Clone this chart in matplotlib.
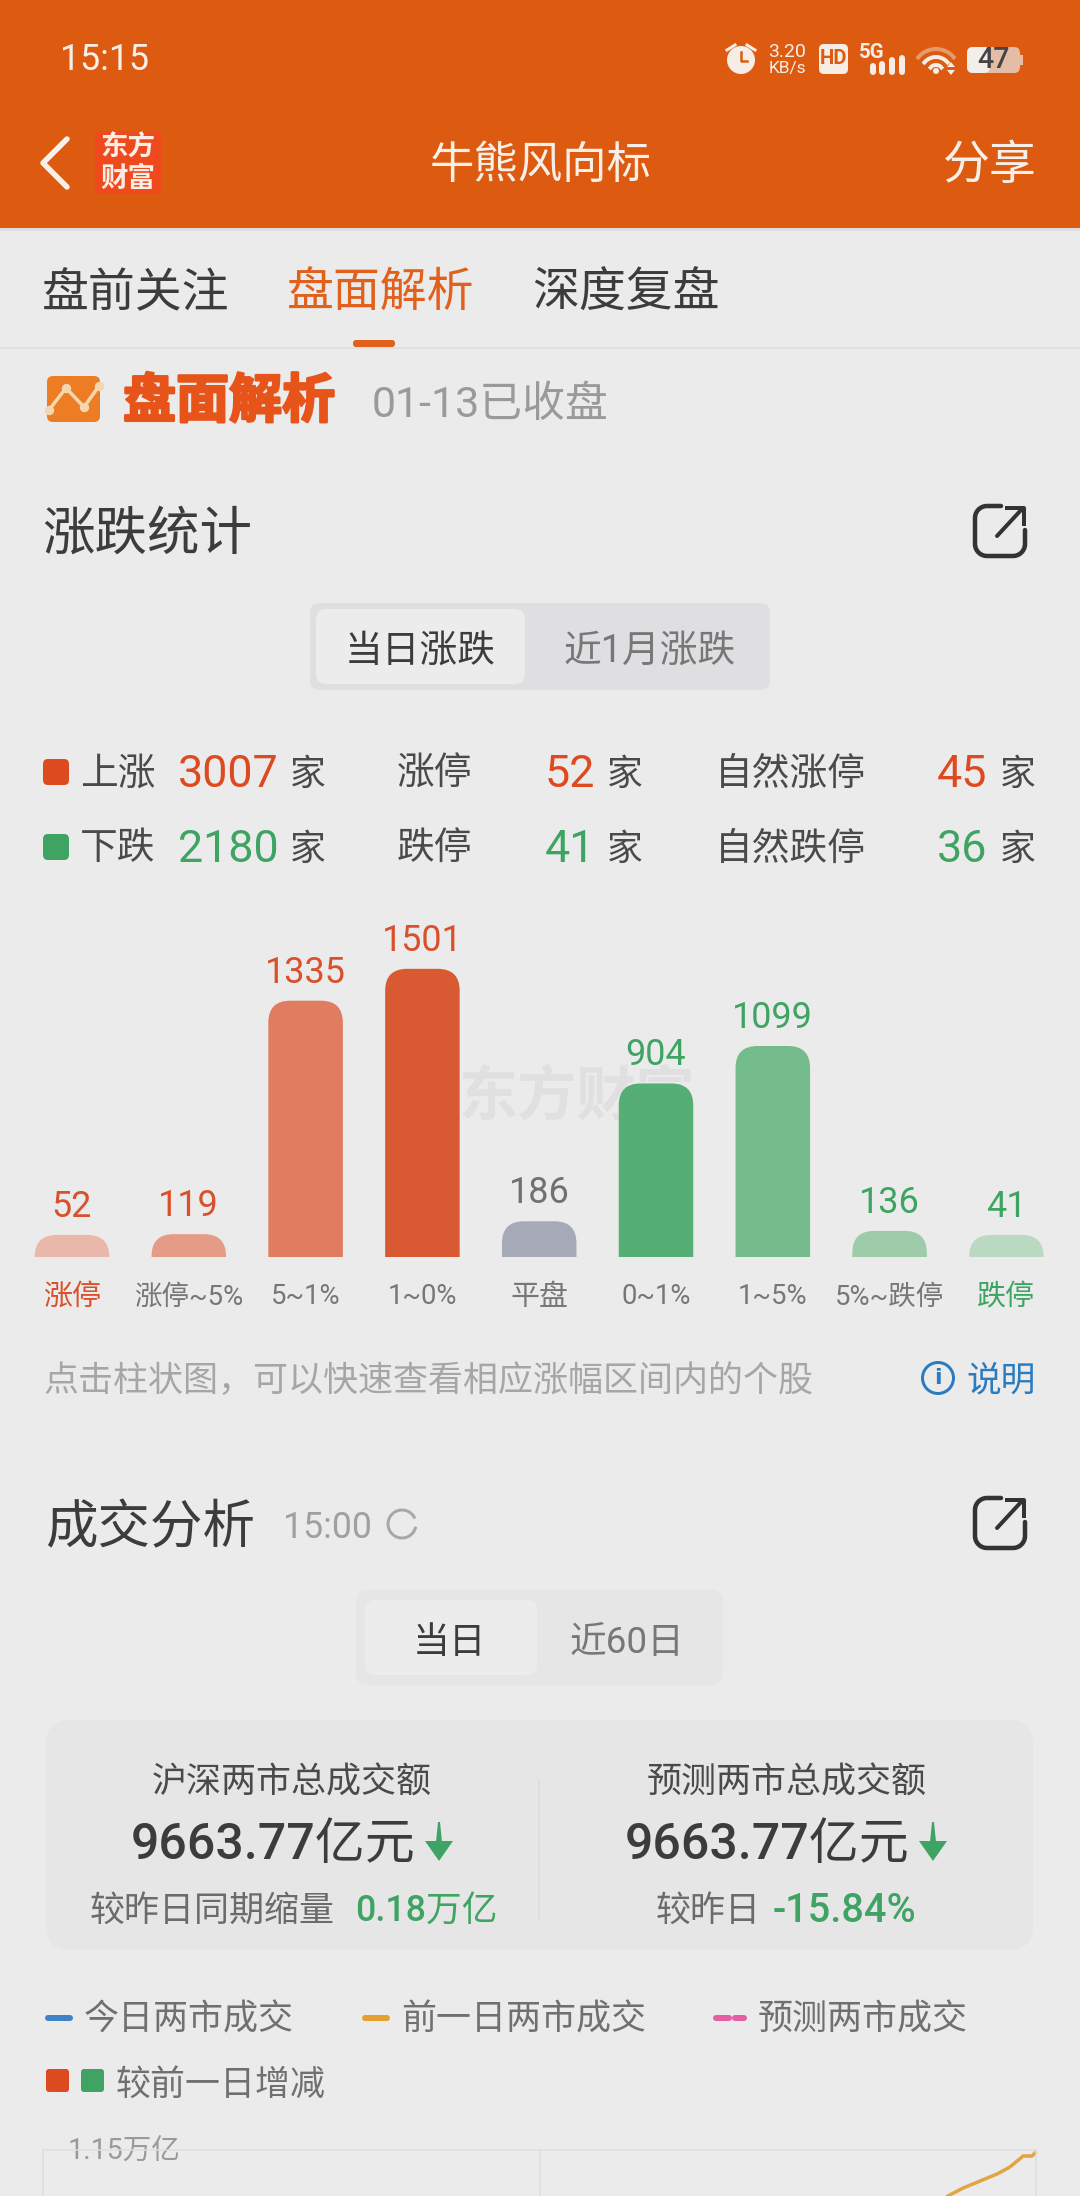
import numpy as np
import matplotlib
matplotlib.use("Agg")
import matplotlib.pyplot as plt
from matplotlib.patches import FancyBboxPatch, PathPatch, Circle, Polygon, Rectangle
from matplotlib.path import Path
import matplotlib.patheffects as pe

plt.rcParams['font.family'] = ['Roboto', 'Noto Sans CJK SC', 'DejaVu Sans']

# bar chart values
categories = ['涨停', '涨停~5%', '5~1%', '1~0%', '平盘', '0~1%', '1~5%', '5%~跌停', '跌停']
counts = [52, 119, 1335, 1501, 186, 904, 1099, 136, 41]
bar_colors = ['#e9b8aa', '#e49c87', '#e07c5f', '#d95a32', '#a6a9b8', '#55ae73', '#75bc8c', '#9ecba9', '#b9d9c2']
label_colors = ['#d9512c', '#d9512c', '#d9512c', '#d9512c', '#707070', '#3fa463', '#3fa463', '#3fa463', '#3fa463']
cat_colors = ['#d9512c', '#777777', '#777777', '#777777', '#777777', '#777777', '#777777', '#777777', '#3fa463']
min_bar_value = 115  # short bars keep a minimum height in the app

# summary rows
up_stats = ['3007', '52', '45']
down_stats = ['2180', '41', '36']

# previous day line, only the end of it is on screen
prev_minutes = [218.7, 222.4, 226.5, 230.6, 233.7, 236.9, 239.0, 239.8]
prev_volume = [1.104, 1.112, 1.119, 1.126, 1.133, 1.144, 1.144, 1.147]

BG = '#ebebeb'
ORANGE = '#dc5b10'
RED = '#d9512c'
GREEN = '#3fa463'
DARK = '#3c3c3c'
MID = '#707070'
GREY = '#a0a0a0'
BLUE = '#2a7bbf'

fig = plt.figure(figsize=(10.8, 21.96), dpi=100, facecolor=BG)
ax = fig.add_axes([0, 0, 1, 1])
ax.set_xlim(0, 1080)
ax.set_ylim(2196, 0)
ax.axis('off')


def px(n):
    return n * 72 / 100


def txt(x, y, s, size, color=DARK, ha='center', weight='normal', **kw):
    # text sits a little high in this font, hence the +3
    return ax.text(x, y + 3, s, fontsize=px(size * 1.02), color=color, ha=ha, va='center', weight=weight, **kw)


def box(x0, y0, x1, y1, r, color, z=1):
    p = FancyBboxPatch((x0 + r, y0 + r), x1 - x0 - 2 * r, y1 - y0 - 2 * r,
                       boxstyle='round,pad=%f,rounding_size=%f' % (r, r),
                       fc=color, ec='none', zorder=z)
    ax.add_patch(p)
    return p


def share_icon(x0, y0):
    c = '#333333'
    t = np.linspace(0, np.pi / 2, 12)
    r = 12
    w = 50
    h = 50
    xs = [x0 + 26, x0 + r]
    ys = [y0, y0]
    xs += list(x0 + r - r * np.sin(t))
    ys += list(y0 + r - r * np.cos(t))
    xs += list(x0 + r - r * np.cos(t))
    ys += list(y0 + h - r + r * np.sin(t))
    xs += list(x0 + w - r + r * np.sin(t))
    ys += list(y0 + h - r + r * np.cos(t))
    xs += [x0 + w]
    ys += [y0 + 24]
    ax.plot(xs, ys, color=c, lw=px(4.5), solid_capstyle='round', zorder=3)
    ax.plot([x0 + 22, x0 + 47], [y0 + 30, y0 + 3], color=c, lw=px(4), solid_capstyle='round', zorder=3)
    ax.plot([x0 + 32, x0 + 49, x0 + 49], [y0 + 2, y0 + 2, y0 + 18], color=c, lw=px(4), zorder=3)


# orange header
ax.add_patch(Rectangle((0, 0), 1080, 228, fc=ORANGE, ec='none', zorder=1))
ax.add_patch(Rectangle((0, 228), 1080, 3, fc='#dedede', ec='none', zorder=1))
txt(60, 57, '15:15', 35, '#f7efe8', ha='left')

# status bar icons
W = '#f5ede6'
ax.add_patch(Circle((741, 60), 14, fc=W, ec='none', zorder=3))
ax.plot([741, 741, 747], [52, 61, 61], color=ORANGE, lw=px(2.5), zorder=4)
ax.plot([727, 735], [50, 45], color=W, lw=px(3), zorder=3)
ax.plot([747, 755], [45, 50], color=W, lw=px(3), zorder=3)
txt(787, 49, '3.20', 19, W)
txt(787, 66, 'KB/s', 17, W)
box(819, 44, 848, 74, 5, W, 3)
txt(833.5, 56, 'HD', 20, ORANGE, weight='bold', zorder=4)
txt(872, 49, '5G', 20, W, weight='bold')
for bx, bt in zip([873, 882, 892, 902], [66, 64, 60, 58]):
    ax.plot([bx, bx], [bt, 72], color=W, lw=px(6), solid_capstyle='round', zorder=3)
ang = np.linspace(np.pi * 0.22, np.pi * 0.78, 20)
for rad, col in zip([7, 15, 23], [W, W, '#e79a6c']):
    ax.plot(936 + rad * np.cos(ang), 72 - rad * np.sin(ang), color=col, lw=px(4), zorder=3)
ax.add_patch(Circle((936, 71), 3, fc=W, ec='none', zorder=3))
ax.add_patch(Polygon([[951, 62], [955, 67], [947, 67]], fc=W, ec='none', zorder=3))
ax.add_patch(Polygon([[947, 70], [955, 70], [951, 75]], fc=W, ec='none', zorder=3))
box(967, 47, 1020, 73, 6, '#e5bca5', 3)
box(967, 47, 990, 73, 6, '#f2eeea', 3)
ax.add_patch(Rectangle((1020, 55), 3, 10, fc='#e5bca5', ec='none', zorder=3))
txt(993, 57, '47', 28, '#444444', zorder=4, weight='medium')

# nav bar
ax.plot([67, 43, 67], [139, 163, 187], color='#f7efe8', lw=px(5.5), solid_capstyle='round', zorder=3)
box(95, 131, 161, 194, 6, '#ee4a1d', 2)
txt(128, 145, '东方', 27, '#fbeee6', weight='bold', zorder=3)
txt(128, 176, '财富', 27, '#fbeee6', weight='bold', zorder=3)
txt(541, 163, '牛熊风向标', 43.5, '#f7efe8', weight='medium')
txt(990, 163, '分享', 46, '#f7efe8', weight='medium')

# tabs
txt(136, 291, '盘前关注', 46, DARK)
txt(381, 291, '盘面解析', 46, '#e0601c')
txt(626, 291, '深度复盘', 46, DARK)
ax.plot([0, 1080], [348, 348], color='#dcdcdc', lw=px(1.5), zorder=1)
box(353, 340, 395, 347, 3, '#e0601c', 3)

# section banner
box(47, 376, 100, 422, 6, '#ec7d24', 2)
ax.plot([49, 66, 84, 99], [410, 388, 407, 386], color='#f6d6ae', lw=px(3.5), marker='o', ms=px(8), zorder=3)
txt(229, 400, '盘面解析', 52, '#e6541a', weight='bold',
    path_effects=[pe.withStroke(linewidth=px(2.5), foreground='#e6541a')])
txt(372, 402, '01-13已收盘', 42, '#9a9a9a', ha='left')

# 涨跌统计 block
txt(42, 532, '涨跌统计', 51.5, DARK, ha='left', weight='medium')
share_icon(975, 506)
box(310, 603, 770, 690, 10, '#dfdfe1', 1)
box(316, 609, 525, 684, 10, '#ececec', 2)
txt(420, 648, '当日涨跌', 37, DARK, zorder=3)
txt(650, 648, '近1月涨跌', 37, '#777777', zorder=3)

row_y = [772, 847]
row_names = [['上涨', '涨停', '自然涨停'], ['下跌', '跌停', '自然跌停']]
row_vals = [up_stats, down_stats]
for i, y in enumerate(row_y):
    c = '#dd4a20' if i == 0 else GREEN
    box(43, y - 13, 69, y + 13, 5, c, 2)
    txt(80, y - 1, row_names[i][0], 37, '#4a4a4a', ha='left')
    txt(397, y - 1, row_names[i][1], 37, '#4a4a4a', ha='left')
    txt(715, y - 1, row_names[i][2], 37, '#4a4a4a', ha='left')
    txt(279, y, row_vals[i][0], 44, c, ha='right')
    txt(595, y, row_vals[i][1], 44, c, ha='right')
    txt(987, y, row_vals[i][2], 44, c, ha='right')
    for xk in [308, 625, 1018]:
        txt(xk, y, '家', 35, '#4a4a4a')

# watermark behind the bars
txt(577, 1095, '东方财富', 58, '#e0e0e2', weight='bold', zorder=0.5)

# bars, on their own axes: baseline at y=1257, 0.192 px per stock
ax_bar = fig.add_axes([0, 1 - 1257 / 2196, 1, (1257 - 900) / 2196])
ax_bar.patch.set_alpha(0)
ax_bar.set_xlim(-72 / 116.8, (1080 - 72) / 116.8)
ax_bar.set_ylim(0, (1257 - 900) / 0.192)
ax_bar.axis('off')
bar_w = 0.638
rx = 22 / 116.8
ry = 22 / 0.192
heights = np.maximum(counts, min_bar_value)
for i, h in enumerate(heights):
    l = i - bar_w / 2
    r = i + bar_w / 2
    verts = [(l, 0), (l, h - ry), (l, h), (l + rx, h), (r - rx, h), (r, h), (r, h - ry), (r, 0), (l, 0)]
    codes = [Path.MOVETO, Path.LINETO, Path.CURVE3, Path.CURVE3, Path.LINETO,
             Path.CURVE3, Path.CURVE3, Path.LINETO, Path.CLOSEPOLY]
    ax_bar.add_patch(PathPatch(Path(verts, codes), fc=bar_colors[i], ec='none'))
    ax_bar.annotate(str(counts[i]), (i, h), xytext=(0, px(28)), textcoords='offset points',
                    ha='center', va='center', fontsize=px(36), color=label_colors[i])
    ax_bar.annotate(categories[i], (i, 0), xytext=(0, -px(40)), textcoords='offset points',
                    ha='center', va='center', annotation_clip=False,
                    fontsize=px(29 if i in (0, 4, 8) else 27.5), color=cat_colors[i])

txt(44, 1378, '点击柱状图\uff0c可以快速查看相应涨幅区间内的个股', 34.3, '#a6a6a6', ha='left')
ax.add_patch(Circle((938, 1378), 15.5, fc='none', ec=BLUE, lw=px(3), zorder=3))
txt(938, 1375, 'i', 22, BLUE, weight='bold', family='DejaVu Sans', zorder=3)
txt(1001, 1378, '说明', 34, BLUE)

# 成交分析 block
txt(45, 1526, '成交分析', 51.5, DARK, ha='left', weight='medium')
txt(283, 1525, '15:00', 35, '#a0a0a0', ha='left')
ang2 = np.linspace(0.3, 2 * np.pi - 0.5, 40)
ax.plot(402 + 14 * np.cos(ang2), 1524 + 14 * np.sin(ang2), color='#a8a8a8', lw=px(3), zorder=3)
share_icon(975, 1498)
box(356, 1590, 723, 1685, 12, '#e6e6e6', 1)
box(365, 1600, 537, 1675, 10, '#ececec', 2)
txt(449, 1640, '当日', 36, DARK, zorder=3)
txt(627, 1640, '近60日', 36, '#777777', zorder=3)

box(46, 1720, 1033, 1950, 24, '#e6e6e7', 1)
ax.plot([539, 539], [1780, 1920], color='#dcdcdc', lw=px(1.5), zorder=2)
txt(292, 1780, '沪深两市总成交额', 34.3, '#4a4a4a', zorder=3)
txt(787, 1780, '预测两市总成交额', 34.3, '#4a4a4a', zorder=3)
txt(273, 1842, '9663.77亿元', 49, DARK, weight='medium', zorder=3)
txt(767, 1842, '9663.77亿元', 49, DARK, weight='medium', zorder=3)
for ax0 in [439, 933]:
    ax.add_patch(Polygon([[ax0 - 14, 1841], [ax0 + 14, 1841], [ax0, 1861]], fc=GREEN, ec='none', zorder=3))
    ax.add_patch(Polygon([[ax0 - 3, 1842], [ax0 + 3, 1842], [ax0 + 1, 1822], [ax0 - 1, 1822]], fc=GREEN, ec='none', zorder=3))
txt(90, 1908, '较昨日同期缩量', 34.3, '#6b6b6b', ha='left', zorder=3)
txt(355, 1908, '0.18万亿', 35, GREEN, ha='left', weight='medium', zorder=3)
txt(656, 1908, '较昨日', 34.3, '#6b6b6b', ha='left', zorder=3)
txt(773, 1908, '-15.84%', 39, GREEN, ha='left', weight='medium', zorder=3)

# legend
ax.plot([48, 70], [2018, 2018], color='#3f82c8', lw=px(6), solid_capstyle='round', zorder=3)
txt(84, 2017, '今日两市成交', 34.3, MID, ha='left')
ax.plot([365, 387], [2018, 2018], color='#e5a032', lw=px(6), solid_capstyle='round', zorder=3)
txt(401, 2017, '前一日两市成交', 34.3, MID, ha='left')
ax.plot([716, 729], [2018, 2018], color='#e45fa5', lw=px(6), solid_capstyle='round', zorder=3)
ax.plot([735, 744], [2018, 2018], color='#e45fa5', lw=px(6), solid_capstyle='round', zorder=3)
txt(758, 2017, '预测两市成交', 34.3, MID, ha='left')
box(46, 2069, 69, 2092, 3, '#dd4a20', 3)
box(81, 2069, 104, 2092, 3, GREEN, 3)
txt(116, 2082, '较前一日增减', 34.3, MID, ha='left')

# line chart, cut off by the bottom of the screenshot
ax_line = fig.add_axes([43 / 1080, 0, (1036 - 43) / 1080, 46 / 2196])
ax_line.patch.set_alpha(0)
ax_line.set_xlim(0, 240)
ax_line.set_ylim(1.104, 1.150)
ax_line.set_xticks([120])
ax_line.set_yticks([])
ax_line.tick_params(length=0, labelbottom=False)
ax_line.grid(axis='x', color='#dedede', lw=px(1.5))
for side in ['left', 'right', 'top']:
    ax_line.spines[side].set_color('#dedede')
    ax_line.spines[side].set_linewidth(px(1.5))
ax_line.spines['bottom'].set_visible(False)
ax_line.plot(prev_minutes, prev_volume, color='#e2a544', lw=px(3.5), clip_on=False)
txt(68, 2149, '1.15万亿', 28, '#9a9a9a', ha='left', zorder=5)

fig.savefig('out.png', dpi=100, facecolor=BG)
